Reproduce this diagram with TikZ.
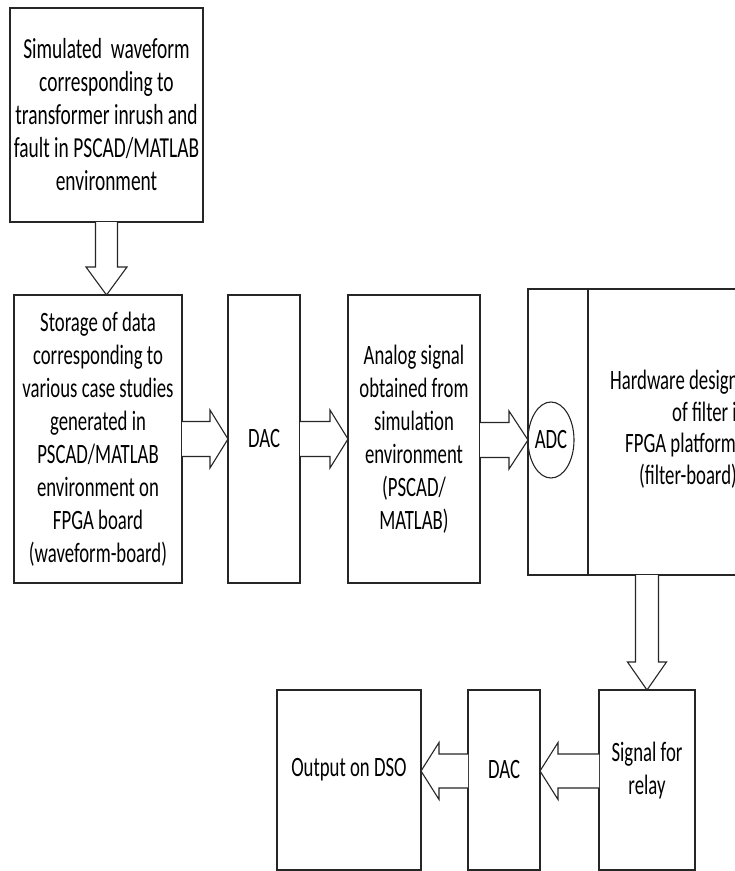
\documentclass[tikz,border=0pt]{standalone}
\usepackage{fontspec}
\newfontfamily\calib[FakeStretch=0.67]{Carlito}
\usetikzlibrary{calc,shapes.geometric}
\begin{document}
\begin{tikzpicture}[x=1pt,y=-1pt,
  lin/.style={draw=black!85, line width=1.1pt},
  txt/.style={inner sep=0pt, align=center, font=\calib\fontsize{28}{33}\selectfont},
  box/.style={lin, txt, outer sep=0pt, anchor=north west},
  hollow/.style={lin, fill=white, line join=miter}]
\useasboundingbox (0,0) rectangle (735,871);
\clip (-1,-1) rectangle (735,871);
% boxes
\node[box, minimum width=193pt, minimum height=214pt, font=\calib\fontsize{29}{33}\selectfont] (sim) at (10,8)
  {Simulated\ \ waveform\\corresponding to\\transformer inrush and\\fault in PSCAD/MATLAB\\environment};
\node[box, minimum width=168pt, minimum height=288pt] (storage) at (14,295)
  {Storage of data\\corresponding to\\various case studies\\generated in\\PSCAD/MATLAB\\environment on\\FPGA board\\(waveform-board)};
\node[box, minimum width=72pt, minimum height=288pt] (dac1) at (228,295) {DAC};
\node[box, minimum width=132pt, minimum height=288pt] (analog) at (348,295)
  {Analog signal\\obtained from\\simulation\\environment\\(PSCAD/\\MATLAB)};
\node[box, minimum width=244pt, minimum height=286pt] (filter) at (528,289) {};
\draw[lin] ($(filter.north west)+(60,0)$) -- ($(filter.south west)+(60,0)$);
\node[txt, align=left, anchor=west, font=\calib\fontsize{28}{31.5}\selectfont] (ftext) at (610,429)
  {Hardware design\\\hspace*{62pt}of filter in\\\hspace*{15pt}FPGA platform\\\hspace*{29pt}(filter-board)};
\node[lin, txt, ellipse, outer sep=0pt, minimum width=46pt, minimum height=76pt] (adc) at (551,440) {ADC};
\node[box, minimum width=96pt, minimum height=180pt] (relay) at (599,690) {};
\node[txt] (relaytxt) at ($(relay.center)+(0,-9)$) {Signal for\\relay};
\node[box, minimum width=72pt, minimum height=180pt] (dac2) at (468,690) {};
\node[txt] (dac2txt) at ($(dac2.center)+(0,-10)$) {DAC};
\node[box, minimum width=144pt, minimum height=180pt] (output) at (277,690) {};
\node[txt] (outtxt) at ($(output.center)+(0,-10)$) {Output on DSO};
% hollow arrows
\coordinate (a1s) at (sim.south);
\coordinate (a1t) at (sim.south |- storage.north);
\draw[hollow] ($(a1s)+(-11,0)$) -- ($(a1t)+(-11,-28)$) -- ($(a1t)+(-20.5,-28)$) -- (a1t)
  -- ($(a1t)+(20.5,-28)$) -- ($(a1t)+(11,-28)$) -- ($(a1s)+(11,0)$);
\draw[hollow] ($(storage.east)+(0,-17.5)$) -- ($(dac1.west)+(-18,-17.5)$) -- ($(dac1.west)+(-18,-29)$)
  -- (dac1.west) -- ($(dac1.west)+(-18,29)$) -- ($(dac1.west)+(-18,17.5)$) -- ($(storage.east)+(0,17.5)$);
\draw[hollow] ($(dac1.east)+(0,-17.5)$) -- ($(analog.west)+(-18,-17.5)$) -- ($(analog.west)+(-18,-29)$)
  -- (analog.west) -- ($(analog.west)+(-18,29)$) -- ($(analog.west)+(-18,17.5)$) -- ($(dac1.east)+(0,17.5)$);
\coordinate (a4s) at (analog.east |- adc.west);
\draw[hollow] ($(a4s)+(0,-17.5)$) -- ($(adc.west)+(-19,-17.5)$) -- ($(adc.west)+(-19,-29)$)
  -- (adc.west) -- ($(adc.west)+(-19,29)$) -- ($(adc.west)+(-19,17.5)$) -- ($(a4s)+(0,17.5)$);
\coordinate (a5t) at (relay.north);
\coordinate (a5s) at (relay.north |- filter.south);
\draw[hollow] ($(a5s)+(-11.5,0)$) -- ($(a5t)+(-11.5,-28)$) -- ($(a5t)+(-19.5,-28)$) -- (a5t)
  -- ($(a5t)+(19.5,-28)$) -- ($(a5t)+(11.5,-28)$) -- ($(a5s)+(11.5,0)$);
\coordinate (a6s) at ($(relay.west)+(0,-9)$);
\coordinate (a6t) at ($(dac2.east)+(0,-9)$);
\draw[hollow] ($(a6s)+(0,-17)$) -- ($(a6t)+(18,-17)$) -- ($(a6t)+(18,-28.5)$) -- (a6t)
  -- ($(a6t)+(18,28.5)$) -- ($(a6t)+(18,17)$) -- ($(a6s)+(0,17)$);
\coordinate (a7s) at ($(dac2.west)+(0,-9)$);
\coordinate (a7t) at ($(output.east)+(0,-9)$);
\draw[hollow] ($(a7s)+(0,-17)$) -- ($(a7t)+(18,-17)$) -- ($(a7t)+(18,-28.5)$) -- (a7t)
  -- ($(a7t)+(18,28.5)$) -- ($(a7t)+(18,17)$) -- ($(a7s)+(0,17)$);
\end{tikzpicture}
\end{document}
